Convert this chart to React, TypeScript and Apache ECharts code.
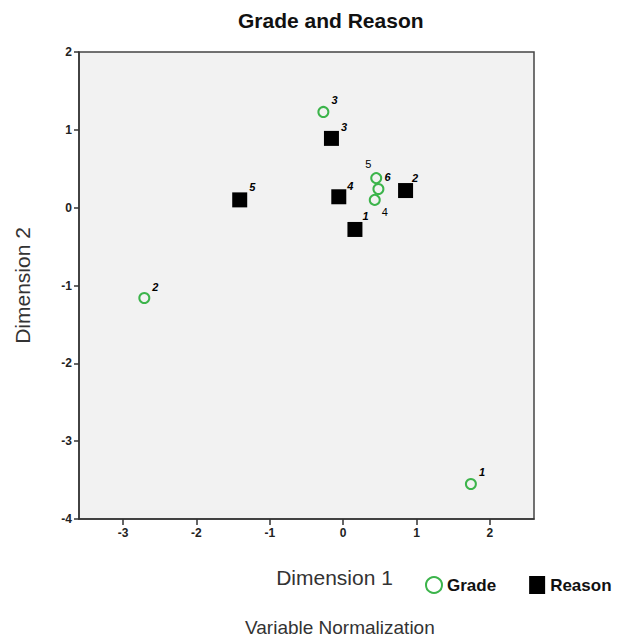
import React, { useEffect, useRef } from "react";
import * as echarts from "echarts";

const gradeLabels = ["1", "2", "3", "4", "5", "6"];
const gradeX = [1.74, -2.71, -0.27, 0.43, 0.45, 0.48];
const gradeY = [-3.55, -1.16, 1.23, 0.1, 0.38, 0.24];

const reasonLabels = ["1", "2", "3", "4", "5"];
const reasonX = [0.16, 0.85, -0.16, -0.06, -1.41];
const reasonY = [-0.28, 0.22, 0.89, 0.14, 0.1];

const xTicks = [-3, -2, -1, 0, 1, 2];

// label placement styles (offset relative to default right position)
const gradeLabelStyle: any[] = [
  { offset: [0, -12], bold: true },
  { offset: [0, -11], bold: true },
  { offset: [0, -12], bold: true },
  { offset: [-1, 12], bold: false },
  { offset: [-19, -14], bold: false },
  { offset: [-2, -12], bold: true },
];
const reasonLabelStyle: any[] = [
  { offset: [-2, -13], bold: true },
  { offset: [-3, -13], bold: true },
  { offset: [0, -11], bold: true },
  { offset: [-1, -11], bold: true },
  { offset: [0, -13], bold: true },
];

const FONT = "Liberation Sans, Arial, sans-serif";
const GREEN = "#3cb44b";

export default function App() {
  const ref = useRef<HTMLDivElement>(null);
  useEffect(() => {
    if (!ref.current) return;
    const chart = echarts.init(ref.current, undefined, { renderer: "svg" });
    const mkLabel = (s: any, text: string) => ({
      show: true,
      formatter: text,
      position: "right",
      distance: 2,
      offset: s.offset,
      fontFamily: FONT,
      fontSize: 11,
      fontWeight: s.bold ? "bold" : "normal",
      fontStyle: s.bold ? "italic" : "normal",
      color: "#000",
    });
    const gradeData = gradeX.map((x, i) => ({
      value: [x, gradeY[i]],
      label: mkLabel(gradeLabelStyle[i], gradeLabels[i]),
    }));
    const reasonData = reasonX.map((x, i) => ({
      value: [x, reasonY[i]],
      label: mkLabel(reasonLabelStyle[i], reasonLabels[i]),
    }));
    chart.setOption({
      animation: false,
      backgroundColor: "#ffffff",
      textStyle: { fontFamily: FONT },
      title: [
        {
          text: "Grade and Reason",
          left: 233,
          top: 5,
          textStyle: { fontFamily: FONT, fontSize: 21, fontWeight: "bold", color: "#111" },
        },
        {
          text: "Variable Normalization",
          left: 240,
          top: 613,
          textStyle: { fontFamily: FONT, fontSize: 19, fontWeight: "normal", color: "#333" },
        },
      ],
      legend: {
        left: 420,
        top: 571,
        itemWidth: 16,
        itemHeight: 18,
        itemGap: 33,
        textStyle: { fontFamily: FONT, fontSize: 17, fontWeight: "bold", color: "#111" },
        data: [
          { name: "Grade", icon: "circle" },
          { name: "Reason", icon: "rect" },
        ],
      },
      grid: {
        left: 79,
        top: 52,
        right: 94,
        bottom: 118,
        show: true,
        backgroundColor: "#f2f2f2",
        borderColor: "#444",
        borderWidth: 1.5,
      },
      xAxis: {
        type: "value",
        min: -3.6,
        max: 2.6,
        name: "Dimension 1",
        nameLocation: "middle",
        nameGap: 48,
        nameTextStyle: { fontFamily: FONT, fontSize: 21, color: "#333", padding: [0, 0, 0, 56] },
        splitLine: { show: false },
        axisLine: { show: true, onZero: false, lineStyle: { color: "#333", width: 1.5 } },
        axisTick: { show: true, customValues: xTicks, length: 6, lineStyle: { color: "#333", width: 1.5 } },
        axisLabel: {
          customValues: xTicks,
          fontFamily: FONT,
          fontSize: 12,
          fontWeight: "bold",
          color: "#222",
          margin: 8,
        },
      },
      yAxis: {
        type: "value",
        min: -4,
        max: 2,
        interval: 1,
        name: "Dimension 2",
        nameLocation: "middle",
        nameGap: 46,
        nameTextStyle: { fontFamily: FONT, fontSize: 21, color: "#333" },
        splitLine: { show: false },
        axisLine: { show: true, onZero: false, lineStyle: { color: "#333", width: 1.5 } },
        axisTick: { show: true, length: 5, lineStyle: { color: "#333", width: 1.5 } },
        axisLabel: {
          fontFamily: FONT,
          fontSize: 12,
          fontWeight: "bold",
          color: "#222",
          margin: 7,
        },
      },
      series: [
        {
          name: "Grade",
          type: "scatter",
          symbol: "circle",
          symbolSize: 10,
          itemStyle: { color: "rgba(0,0,0,0)", borderColor: GREEN, borderWidth: 2, opacity: 1 },
          data: gradeData,
          z: 3,
        },
        {
          name: "Reason",
          type: "scatter",
          symbol: "rect",
          symbolSize: 15,
          itemStyle: { color: "#000000", opacity: 1 },
          data: reasonData,
          z: 2,
        },
      ],
    });
    return () => chart.dispose();
  }, []);
  return (
    <div
      ref={ref}
      style={{ position: "fixed", left: 0, top: 0, width: 628, height: 637 }}
    />
  );
}
